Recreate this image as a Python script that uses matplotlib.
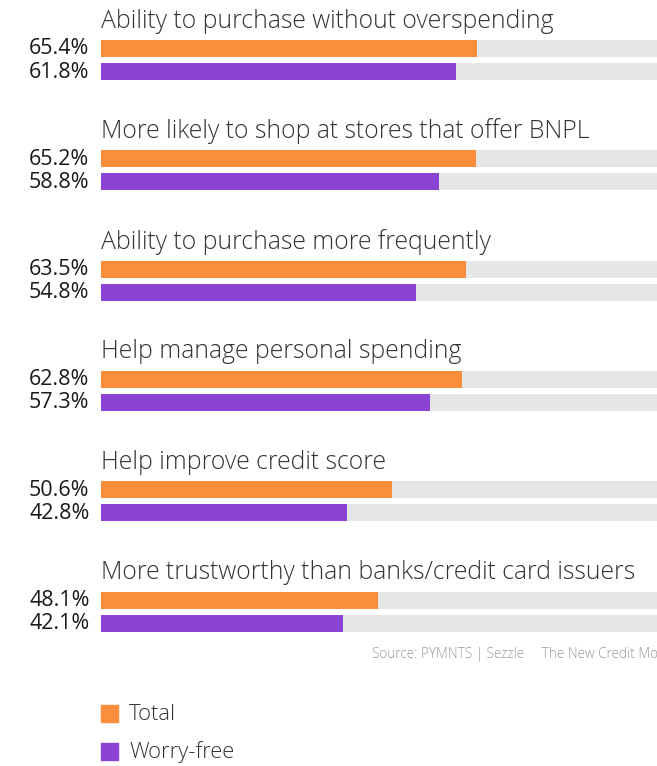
import matplotlib
matplotlib.use("Agg")
import matplotlib.pyplot as plt
from matplotlib.patches import Rectangle

categories = [
    "Ability to purchase without overspending",
    "More likely to shop at stores that offer BNPL",
    "Ability to purchase more frequently",
    "Help manage personal spending",
    "Help improve credit score",
    "More trustworthy than banks/credit card issuers",
]
total = [65.4, 65.2, 63.5, 62.8, 50.6, 48.1]
worry_free = [61.8, 58.8, 54.8, 57.3, 42.8, 42.1]
series_names = ["Total", "Worry-free"]
source_text = "Source: PYMNTS | Sezzle     The New Credit Model Report"

ORANGE = "#FA8E3D"
PURPLE = "#8A43D2"
GREY = "#E5E6E8"
TITLE_C = "#333333"
FONT = ["Open Sans", "DejaVu Sans"]

W, H = 657, 766
fig = plt.figure(figsize=(W / 100, H / 100), dpi=100)
# axes extends past the right edge of the figure (chart is clipped in the reference)
ax = fig.add_axes([101 / W, 0, 575 / W, 1])
ax.set_xlim(0, 100)
ax.set_ylim(H, 0)
ax.axis("off")

step = 110.3
bh = 17
for i, (cat, t, w) in enumerate(zip(categories, total, worry_free)):
    yo = 48.5 + step * i
    yp = 71.5 + step * i
    ax.barh([yo, yp], [100, 100], height=bh, color=GREY, left=0)
    ax.barh(yo, t, height=bh, color=ORANGE)
    ax.barh(yp, w, height=bh, color=PURPLE)
    ax.text(0, yo - 27.5, cat, fontsize=17.8, color=TITLE_C, family=FONT,
            fontweight="light", va="center", ha="left")
    ax.text(-2.0, yo + 0.5, f"{t:.1f}%", fontsize=15.5, color="#1A1A1A", family=FONT,
            va="center", ha="right")
    ax.text(-2.0, yp + 0.5, f"{w:.1f}%", fontsize=15.5, color="#1A1A1A", family=FONT,
            va="center", ha="right")

fig.text(372 / W, 1 - 654 / H, source_text, fontsize=9.8, color="#9A9A9A",
         family=FONT, fontweight="light", va="center", ha="left")

for j, (name, col) in enumerate(zip(series_names, [ORANGE, PURPLE])):
    yc = 713.5 + 38 * j
    fig.patches.append(Rectangle((101 / W, 1 - (yc + 8.5) / H), 17 / W, 17 / H,
                                 transform=fig.transFigure, color=col))
    fig.text(129 / W, 1 - (yc + 1) / H, name, fontsize=15.8, color=TITLE_C, family=FONT,
             fontweight="light", va="center", ha="left")

fig.savefig("out.png", dpi=100)
